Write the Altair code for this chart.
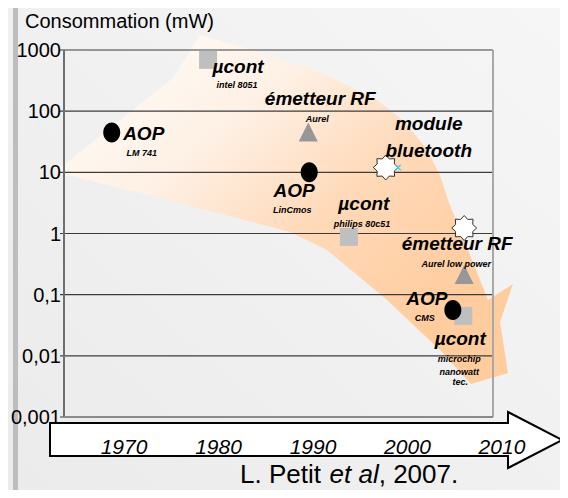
import math
import altair as alt
import pandas as pd

# ---------------- data ----------------
aop_year = [1968.7, 1989.6, 2004.8]          # black ellipses (AOP)
aop_mw = [45, 10, 0.056]
ucont_year = [1978.9, 1993.8, 2005.9]        # grey squares (µcont)
ucont_mw = [690, 0.88, 0.045]
rf_year = [1989.5, 2006.0]                   # grey triangles (émetteur RF)
rf_mw = [45, 0.21]
star_year = [1997.7, 2006.0]                 # white stars (bluetooth, RF low power)
star_mw = [12, 1.23]
cross_year = [1999.0]                        # tiny cyan marker
cross_mw = [12]

y_ticks = [0.001, 0.01, 0.1, 1, 10, 100, 1000]
y_tick_labels = ["0,001", "0,01", "0,1", "1", "10", "100", "1000"]
year_ticks = [1970, 1980, 1990, 2000, 2010]
year_labels = ["1970", "1980", "1990", "2000", "2010"]
y_title = "Consommation (mW)"

series = {
    "aop": (aop_year, aop_mw),
    "ucont": (ucont_year, ucont_mw),
    "rf": (rf_year, rf_mw),
    "star": (star_year, star_mw),
}
# (text, series, index, dx, dy, big?)
annotations = [
    ("AOP", "aop", 0, 32, 8, True),
    ("LM 741", "aop", 0, 30, 24, False),
    ("µcont", "ucont", 0, 30, 13, True),
    ("intel 8051", "ucont", 0, 29, 28, False),
    ("émetteur RF", "rf", 0, 12, -27, True),
    ("Aurel", "rf", 0, 9, -10, False),
    ("AOP", "aop", 1, -15, 25, True),
    ("LinCmos", "aop", 1, -17, 41, False),
    ("module", "star", 0, 43, -37, True),
    ("bluetooth", "star", 0, 43, -10, True),
    ("µcont", "ucont", 1, 15, -27, True),
    ("philips 80c51", "ucont", 1, 13, -10, False),
    ("émetteur RF", "star", 1, -7, 22, True),
    ("Aurel low power", "star", 1, -8, 39, False),
    ("AOP", "aop", 2, -26, -5, True),
    ("CMS", "aop", 2, -28, 11, False),
    ("µcont", "ucont", 2, -3, 29, True),
    ("microchip", "ucont", 2, -4, 46, False),
    ("nanowatt", "ucont", 2, -4, 59, False),
    ("tec.", "ucont", 2, -3, 69, False),
]

# decorative shapes (pixel space, relative to plot origin)
orange_px = [-9, 109, 136, 196, 256, 313, 341, 363, 376, 384, 394, 404, 414, 424,
             449, 436, 444, 407, 376, 323, 263, 226, 116, 36]
orange_py = [122, 28, -15, 2, 22, 50, 72, 100, 125, 150, 175, 200, 225, 250,
             234, 272, 323, 334, 300, 250, 200, 182, 153, 133]
arrow_px = [-14, 444, 444, 498, 444, 444, -14]
arrow_py = [373, 373, 362, 390, 418, 406, 406]

W, H = 429, 367
FONT = "Liberation Sans"

X = alt.Scale(domain=[1963.65, 2009.05], nice=False, zero=False)
Y = alt.Scale(type="log", domain=[0.001, 1000], nice=False)

one = pd.DataFrame({"k": [0]})

# background
bg = alt.Chart(one).mark_rect(
    fill=alt.LinearGradient(
        gradient="linear", x1=1, y1=0, x2=0, y2=1,
        stops=[alt.GradientStop(color="#F6F6F6", offset=0),
               alt.GradientStop(color="#EBEBEB", offset=1)],
    )
).encode(x=alt.value(-56), x2=alt.value(496), y=alt.value(-42), y2=alt.value(440))

left_bar = alt.Chart(one).mark_rect(color="#BDBDBD").encode(
    x=alt.value(-51), x2=alt.value(-46), y=alt.value(-42), y2=alt.value(440)
)

orange_df = pd.DataFrame({"px": orange_px, "py": orange_py, "i": range(len(orange_px))})
orange = alt.Chart(orange_df).mark_line(
    interpolate="linear-closed",
    fill=alt.LinearGradient(
        gradient="linear", x1=0.05, y1=0.05, x2=0.85, y2=0.8,
        stops=[alt.GradientStop(color="#FFFDFA", offset=0),
               alt.GradientStop(color="#FEF0E4", offset=0.35),
               alt.GradientStop(color="#FFD9B8", offset=0.65),
               alt.GradientStop(color="#FFCC9E", offset=1)],
    ),
    strokeOpacity=0,
).encode(
    x=alt.X("px:Q", scale=None, axis=None),
    y=alt.Y("py:Q", scale=None, axis=None),
    order=alt.Order("i:Q"),
)

tick_df = pd.DataFrame({"v": y_ticks, "lab": y_tick_labels})
grid = alt.Chart(tick_df).mark_rule(color="#3c3c3c", strokeWidth=1.2).encode(
    y=alt.Y("v:Q", scale=Y, axis=None),
    x=alt.value(-4), x2=alt.value(W),
)
tick_labels = alt.Chart(tick_df).mark_text(
    font=FONT, fontSize=20, align="right", baseline="middle", color="black", dy=1
).encode(y=alt.Y("v:Q", scale=Y, axis=None), x=alt.value(-3), text="lab:N")

title = alt.Chart(pd.DataFrame({"t": [y_title]})).mark_text(
    font=FONT, fontSize=20, align="left", baseline="alphabetic", color="black"
).encode(x=alt.value(-39), y=alt.value(-22), text="t:N")

domain = alt.Chart(one).mark_rule(color="#6e6e6e", strokeWidth=2).encode(
    x=alt.value(0), y=alt.value(0), y2=alt.value(H))
border_r = alt.Chart(one).mark_rule(color="#A8A8A8", strokeWidth=2).encode(
    x=alt.value(W), y=alt.value(0), y2=alt.value(H))
border_b = alt.Chart(one).mark_rule(color="#8A8A8A", strokeWidth=2).encode(
    x=alt.value(0), x2=alt.value(W), y=alt.value(H))

arrow_df = pd.DataFrame({"px": arrow_px, "py": arrow_py, "i": range(len(arrow_px))})
bottom_arrow = alt.Chart(arrow_df).mark_line(
    interpolate="linear-closed", fill="white", stroke="black", strokeWidth=2
).encode(
    x=alt.X("px:Q", scale=None, axis=None),
    y=alt.Y("py:Q", scale=None, axis=None),
    order=alt.Order("i:Q"),
)

years = alt.Chart(pd.DataFrame({"year": year_ticks, "lab": year_labels})).mark_text(
    font=FONT, fontSize=21, fontStyle="italic", align="center", baseline="alphabetic", color="black"
).encode(x=alt.X("year:Q", scale=X, axis=None), y=alt.value(404), text="lab:N")

cite_parts = [("L. Petit", 176, "normal"), ("et al", 265.6, "italic"), (", 2007.", 314.7, "normal")]
cites = []
for txt, px, style in cite_parts:
    cites.append(alt.Chart(pd.DataFrame({"t": [txt]})).mark_text(
        font=FONT, fontSize=26, fontStyle=style, align="left", baseline="alphabetic", color="black"
    ).encode(x=alt.value(px), y=alt.value(433), text="t:N"))


def pts(xs, ys):
    return pd.DataFrame({"year": xs, "mw": ys})


enc = dict(x=alt.X("year:Q", scale=X, axis=None), y=alt.Y("mw:Q", scale=Y, axis=None))

ellipse_path = "M0,-1A0.85,1 0 1,1 0,1A0.85,1 0 1,1 0,-1Z"
tri_path = "M0,-1.05L1,0.95L-1,0.95Z"
star_pts = []
for k in range(16):
    a = k * math.pi / 8 - math.pi / 2
    r = 1 if k % 2 == 0 else 0.74
    star_pts.append(f"{r * math.cos(a):.3f},{r * math.sin(a):.3f}")
star_path = "M" + "L".join(star_pts) + "Z"
cross_path = "M-1,-1L1,1M-1,1L1,-1"

squares = alt.Chart(pts(ucont_year, ucont_mw)).mark_point(
    shape="square", filled=True, color="#BFBFBF", size=324, opacity=1).encode(**enc)
tris = alt.Chart(pts(rf_year, rf_mw)).mark_point(
    shape=tri_path, filled=True, color="#979797", size=361, opacity=1).encode(**enc)
ellipses = alt.Chart(pts(aop_year, aop_mw)).mark_point(
    shape=ellipse_path, filled=True, color="black", size=400, opacity=1).encode(**enc)
stars = alt.Chart(pts(star_year, star_mw)).mark_point(
    shape=star_path, filled=True, fill="white", stroke="#333333", strokeWidth=1,
    size=625, opacity=1).encode(**enc)
cross = alt.Chart(pts(cross_year, cross_mw)).mark_point(
    shape=cross_path, filled=False, stroke="#35D8D8", strokeWidth=1.2, size=30, opacity=1
).encode(**enc)

labels = []
for txt, s, idx, dx, dy, big in annotations:
    xs, ys = series[s]
    labels.append(alt.Chart(pd.DataFrame({"year": [xs[idx]], "mw": [ys[idx]], "t": [txt]})).mark_text(
        font=FONT, fontSize=19 if big else 9, fontWeight="bold", fontStyle="italic",
        align="center", baseline="alphabetic", dx=dx, dy=dy, color="black"
    ).encode(text="t:N", **enc))

chart = alt.layer(
    bg, left_bar, orange, grid, domain, border_r, border_b, tick_labels, title,
    bottom_arrow, years, *cites,
    squares, tris, ellipses, stars, cross, *labels
).properties(
    width=W, height=H,
    autosize=alt.AutoSizeParams(type="none"),
    padding={"left": 56, "top": 42, "right": 67, "bottom": 73},
).configure(background="#EEEEEE").configure_view(strokeWidth=0)

chart.save("out.html", embed_options={"renderer": "svg", "actions": False})
